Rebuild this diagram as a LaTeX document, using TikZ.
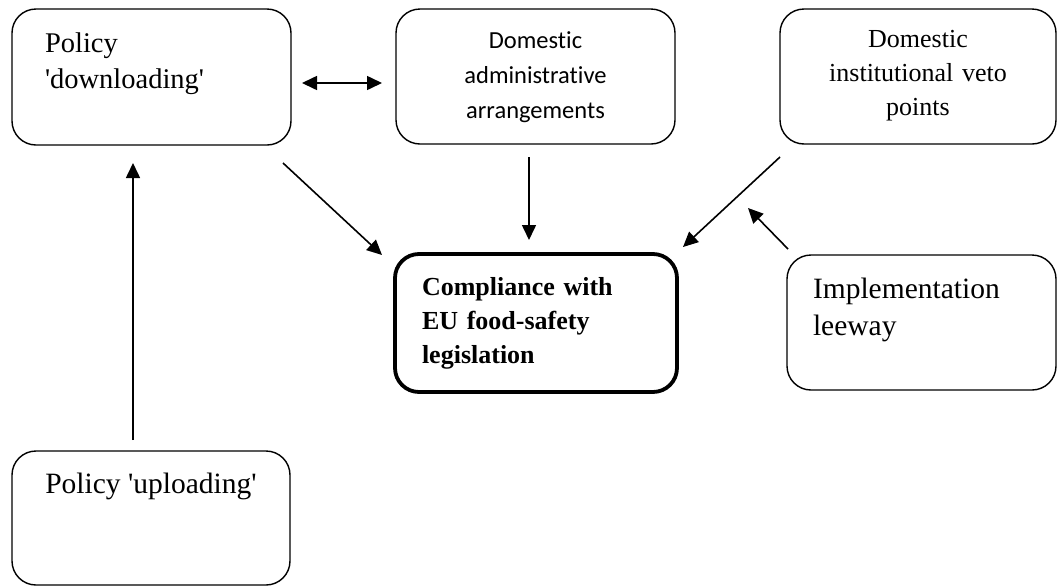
\documentclass[tikz,border=0pt]{standalone}
\usepackage{fontspec}
\setmainfont{Liberation Serif}
\newfontfamily\calfont{Carlito}[Ligatures=NoCommon]
\usetikzlibrary{arrows.meta}
\begin{document}
\begin{tikzpicture}[x=1pt,y=-1pt,
  box/.style={draw, line width=1.4pt, rounded corners=24pt, inner sep=0pt, outer sep=0pt},
  mainbox/.style={box, line width=3.8pt},
  lbl/.style={inner sep=0pt, outer sep=0pt},
  arr/.style={-{Triangle[length=15pt,width=14pt]}, line width=1.6pt},
  darr/.style={{Triangle[length=15pt,width=14pt]}-{Triangle[length=15pt,width=14pt]}, line width=1.6pt}]
\useasboundingbox (0,0) rectangle (1058,587);
% boxes
\node[box, minimum width=279pt, minimum height=136pt] (down) at (151.5,77) {};
\node[box, minimum width=279pt, minimum height=135pt] (adm) at (535.5,76.5) {};
\node[box, minimum width=276pt, minimum height=135pt] (veto) at (918,76.5) {};
\node[mainbox, minimum width=282pt, minimum height=138pt] (comp) at (536,323) {};
\node[box, minimum width=269pt, minimum height=135pt] (lee) at (921.5,322.5) {};
\node[box, minimum width=278pt, minimum height=134pt] (up) at (151,518) {};
% texts
\node[lbl, anchor=base west, text width=240pt, align=left, font=\fontsize{28.5}{36}\selectfont] (tdown) at (45,52) {Policy\\\textquotesingle downloading\textquotesingle};
\node[lbl, anchor=base, text width=260pt, align=center, font=\calfont\fontsize{24.5}{35}\selectfont] (tadm) at (535.5,48) {Domestic\\administrative\\arrangements};
\node[lbl, anchor=base, text width=260pt, align=center, font=\fontsize{26}{34}\selectfont] (tveto) at (918,47) {Domestic\\institutional veto\\points};
\node[lbl, anchor=base west, text width=240pt, align=left, font=\bfseries\fontsize{26}{34}\selectfont] (tcomp) at (422,295) {Compliance with\\EU food-safety\\legislation};
\node[lbl, anchor=base west, text width=240pt, align=left, font=\fontsize{29.5}{37}\selectfont] (tlee) at (813,298) {Implementation\\leeway};
\node[lbl, anchor=base, font=\fontsize{29.5}{36}\selectfont] (tup) at (151,493) {Policy \textquotesingle uploading\textquotesingle};
% connectors
\coordinate (lw) at (748,208);
\draw[darr] ([shift={(11,6)}]down.east) -- ([shift={(-14,6.5)}]adm.west);
\draw[arr] ([shift={(-18,-11)}]up.north) -- ([shift={(-18.5,18)}]down.south);
\draw[arr] ([shift={(-8,18)}]down.south east) -- ([shift={(-13,1)}]comp.north west);
\draw[arr] ([shift={(-6.5,13)}]adm.south) -- ([shift={(-7,-14)}]comp.north);
\draw[arr] ([shift={(0,13)}]veto.south west) -- ([shift={(6,-7)}]comp.north east);
\draw[arr] ([shift={(1,-6)}]lee.north west) -- (lw);
\end{tikzpicture}
\end{document}
